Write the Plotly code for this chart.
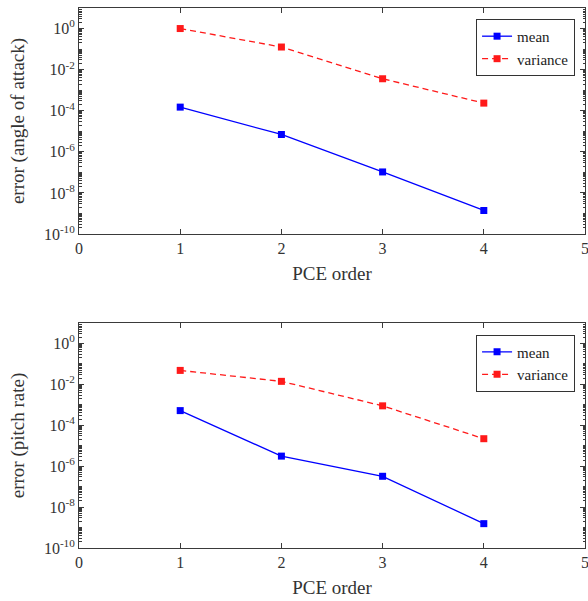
import plotly.graph_objects as go
from plotly.subplots import make_subplots

# PCE order on the horizontal axis
pce_order = [1, 2, 3, 4]

# Error of the mean / variance for the angle of attack
aoa_mean = [1.5e-4, 7.0e-6, 1.05e-7, 1.4e-9]
aoa_variance = [1.0, 0.126, 3.6e-3, 2.35e-4]

# Error of the mean / variance for the pitch rate
pitch_mean = [5.2e-4, 3.1e-6, 3.2e-7, 1.55e-9]
pitch_variance = [4.8e-2, 1.4e-2, 8.9e-4, 2.2e-5]

# Axis ticks
x_ticks = [0, 1, 2, 3, 4, 5]
y_tickvals = [1e0, 1e-2, 1e-4, 1e-6, 1e-8, 1e-10]
y_ticktext = ["10<sup>0</sup>", "10<sup>-2</sup>", "10<sup>-4</sup>",
              "10<sup>-6</sup>", "10<sup>-8</sup>", "10<sup>-10</sup>"]

FONT = "Liberation Serif, Times New Roman, serif"
AX_COLOR = "#3a3a3a"
TXT_COLOR = "#333333"
BLUE = "#0000ff"
RED = "#ff1a1a"

fig = make_subplots(rows=2, cols=1)

panels = [
    (1, aoa_mean, aoa_variance, "error (angle of attack)", "legend"),
    (2, pitch_mean, pitch_variance, "error (pitch rate)", "legend2"),
]

for row, mean_vals, var_vals, ytitle, leg in panels:
    fig.add_trace(go.Scatter(
        x=pce_order, y=mean_vals, name="mean", mode="lines+markers",
        line=dict(color=BLUE, width=1.3),
        marker=dict(symbol="square", size=7, color=BLUE),
        legend=leg,
    ), row=row, col=1)
    fig.add_trace(go.Scatter(
        x=pce_order, y=var_vals, name="variance", mode="lines+markers",
        line=dict(color=RED, width=1.3, dash="6px,4px"),
        marker=dict(symbol="square", size=7, color=RED),
        legend=leg,
    ), row=row, col=1)
    fig.update_xaxes(
        range=[0, 5], tickvals=x_ticks, ticks="inside", ticklen=5,
        tickcolor=AX_COLOR, showline=True, linecolor=AX_COLOR, linewidth=1,
        mirror="ticks", showgrid=False, zeroline=False,
        ticklabeloverflow="allow",
        tickfont=dict(family=FONT, size=16, color=TXT_COLOR),
        title=dict(text="PCE order", standoff=10,
                   font=dict(family=FONT, size=19, color=TXT_COLOR)),
        row=row, col=1,
    )
    fig.update_yaxes(
        type="log", range=[-10, 1], tickvals=y_tickvals, ticktext=y_ticktext,
        ticks="inside", ticklen=5, tickcolor=AX_COLOR,
        minor=dict(ticks="inside", ticklen=2.5, tickcolor=AX_COLOR, dtick="D1"),
        showline=True, linecolor=AX_COLOR, linewidth=1,
        mirror="ticks", showgrid=False, zeroline=False,
        ticklabeloverflow="allow",
        tickfont=dict(family=FONT, size=16, color=TXT_COLOR),
        title=dict(text=ytitle, standoff=14,
                   font=dict(family=FONT, size=19, color=TXT_COLOR)),
        row=row, col=1,
    )

fig.update_layout(
    width=588, height=601,
    margin=dict(l=0, r=0, t=0, b=0),
    paper_bgcolor="white", plot_bgcolor="white",
    xaxis=dict(domain=[0.1344, 0.9949], anchor="y", automargin=False),
    yaxis=dict(domain=[0.6106, 0.9867], anchor="x", automargin=False),
    xaxis2=dict(domain=[0.1344, 0.9949], anchor="y2", automargin=False),
    yaxis2=dict(domain=[0.0882, 0.4626], anchor="x2", automargin=False),
    legend=dict(
        x=0.978, y=0.9685, xanchor="right", yanchor="top",
        bgcolor="white", bordercolor="#333333", borderwidth=1,
        font=dict(family=FONT, size=15, color="#222222"),
        itemwidth=30, tracegroupgap=0,
    ),
    legend2=dict(
        x=0.978, y=0.4433, xanchor="right", yanchor="top",
        bgcolor="white", bordercolor="#333333", borderwidth=1,
        font=dict(family=FONT, size=15, color="#222222"),
        itemwidth=30, tracegroupgap=0,
    ),
)

fig.write_html("out.html")
